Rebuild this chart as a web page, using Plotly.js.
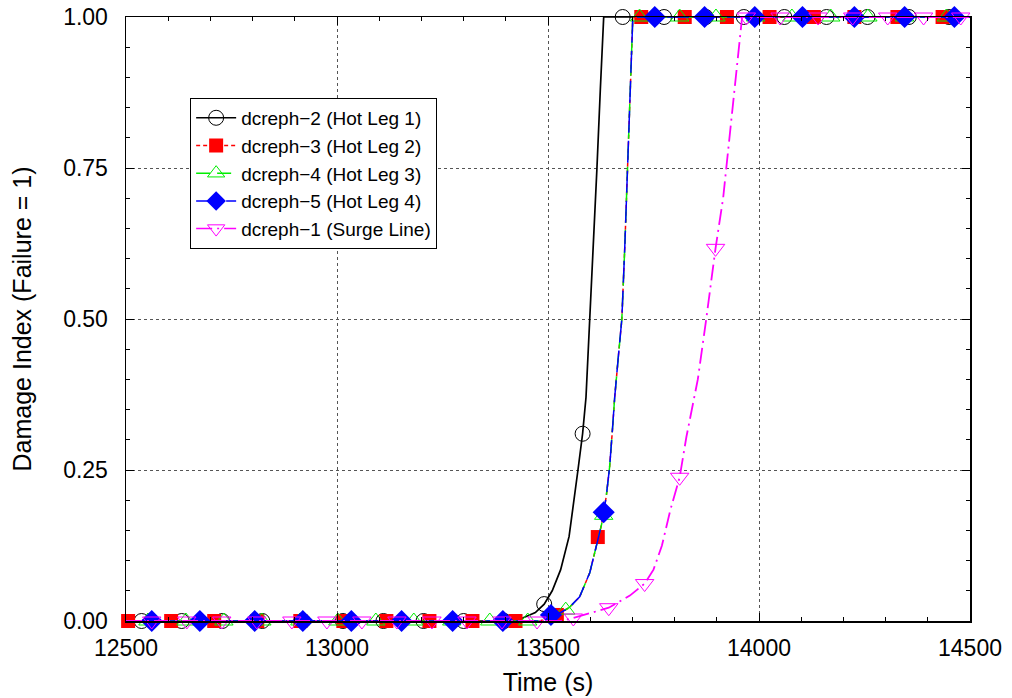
<!DOCTYPE html>
<html>
<head>
<meta charset="utf-8">
<script src="https://cdn.plot.ly/plotly-3.0.1.min.js"></script>
<style>html,body{margin:0;padding:0;background:#fff;}#chart{width:1012px;height:698px;}</style>
</head>
<body>
<div id="chart"></div>
<script>
// ---- curve data (time in s, damage index) ----
var t_hl1 = [12500, 13400, 13440, 13470, 13491, 13510, 13530, 13550, 13571, 13582, 13590, 13599, 13608, 13616, 13624, 13632, 14500];
var v_hl1 = [0, 0, 0.005, 0.014, 0.028, 0.05, 0.085, 0.14, 0.25, 0.31, 0.37, 0.5, 0.62, 0.75, 0.88, 1.0, 1.0];

var t_hl2 = [12500, 13480, 13520, 13550, 13575, 13599, 13618, 13627, 13638, 13646, 13652, 13658, 13667, 13675, 13682, 13689, 13695, 13701, 14500];
var v_hl2 = [0, 0, 0.01, 0.022, 0.04, 0.08, 0.134, 0.16, 0.206, 0.255, 0.31, 0.37, 0.44, 0.5, 0.62, 0.75, 0.88, 1.0, 1.0];

var t_hl3 = [12500, 13480, 13520, 13550, 13575, 13599, 13618, 13627, 13638, 13646, 13652, 13658, 13667, 13675, 13682, 13689, 13695, 13701, 14500];
var v_hl3 = [0, 0, 0.01, 0.022, 0.04, 0.08, 0.134, 0.16, 0.206, 0.255, 0.31, 0.37, 0.44, 0.5, 0.62, 0.75, 0.88, 1.0, 1.0];

var t_hl4 = [12500, 13480, 13520, 13550, 13575, 13599, 13618, 13627, 13638, 13646, 13652, 13658, 13667, 13675, 13682, 13689, 13695, 13701, 14500];
var v_hl4 = [0, 0, 0.01, 0.022, 0.04, 0.08, 0.134, 0.16, 0.206, 0.255, 0.31, 0.37, 0.44, 0.5, 0.62, 0.75, 0.88, 1.0, 1.0];

var t_sl = [12500, 13530, 13560, 13600, 13644, 13694, 13729, 13750, 13770, 13790, 13812, 13828, 13855, 13875, 13897, 13915, 13930, 13945, 13960, 14500];
var v_sl = [0, 0, 0.005, 0.013, 0.022, 0.042, 0.062, 0.085, 0.125, 0.184, 0.238, 0.305, 0.40, 0.50, 0.617, 0.70, 0.80, 0.90, 1.0, 1.0];

// ---- plotted symbol positions ----
var mt_hl1 = [12537, 12632, 12728, 12823, 12919, 13014, 13110, 13205, 13300, 13396, 13491, 13582, 13677, 13775, 13874, 13964, 14060, 14160, 14257, 14355, 14450];
var mv_hl1 = [0, 0, 0, 0, 0, 0, 0, 0, 0, 0, 0.028, 0.31, 1, 1, 1, 1, 1, 1, 1, 1, 1];

var mt_hl2 = [12505, 12607, 12709, 12811, 12913, 13015, 13117, 13219, 13321, 13423, 13521, 13618, 13721, 13824, 13924, 14025, 14130, 14226, 14328, 14435];
var mv_hl2 = [0, 0, 0, 0, 0, 0, 0, 0, 0, 0, 0.01, 0.139, 1, 1, 1, 1, 1, 1, 1, 1];

var mt_hl3 = [12552, 12642, 12732, 12822, 12912, 13002, 13092, 13182, 13272, 13362, 13452, 13542, 13632, 13717, 13812, 13898, 13992, 14078, 14170, 14258, 14345, 14444];
var mv_hl3 = [0, 0, 0, 0, 0, 0, 0, 0, 0, 0, 0, 0.018, 0.175, 1, 1, 1, 1, 1, 1, 1, 1, 1];

var mt_hl4 = [12561, 12675, 12805, 12919, 13034, 13153, 13274, 13393, 13507, 13632, 13753, 13871, 13990, 14103, 14226, 14345, 14463];
var mv_hl4 = [0, 0, 0, 0, 0, 0, 0, 0, 0.01, 0.18, 1, 1, 1, 1, 1, 1, 1];

var mt_sl = [12561, 12644, 12727, 12810, 12893, 12976, 13059, 13142, 13225, 13308, 13391, 13474, 13560, 13644, 13729, 13812, 13897, 13970, 14050, 14140, 14222, 14305, 14390, 14478];
var mv_sl = [0, 0, 0, 0, 0, 0, 0, 0, 0, 0, 0, 0, 0.005, 0.022, 0.062, 0.238, 0.617, 1, 1, 1, 1, 1, 1, 1];

var names = ['dcreph\u22122 (Hot Leg 1)', 'dcreph\u22123 (Hot Leg 2)', 'dcreph\u22124 (Hot Leg 3)', 'dcreph\u22125 (Hot Leg 4)', 'dcreph\u22121 (Surge Line)'];
var xTicks = [12500, 13000, 13500, 14000, 14500];
var yTicks = [0, 0.25, 0.5, 0.75, 1.0];

var styles = [
  {color: '#000000', dash: 'solid', lw: 1.7, sym: 'circle-open', size: 15, mlw: 1},
  {color: '#ff0000', dash: '4px,3px', lw: 1.5, sym: 'square', size: 14, mlw: 0},
  {color: '#00ee00', dash: '14px,7px', lw: 1.5, sym: 'triangle-up-open', size: 16, mlw: 1},
  {color: '#0000ff', dash: '22px,8px', lw: 1.5, sym: 'diamond', size: 17, mlw: 0},
  {color: '#ff00ff', dash: '16px,5px,2px,5px', lw: 1.8, sym: 'triangle-down-open', size: 16, mlw: 1}
];
var series = [
  [t_hl1, v_hl1, mt_hl1, mv_hl1],
  [t_hl2, v_hl2, mt_hl2, mv_hl2],
  [t_hl3, v_hl3, mt_hl3, mv_hl3],
  [t_hl4, v_hl4, mt_hl4, mv_hl4],
  [t_sl, v_sl, mt_sl, mv_sl]
];

var traces = [];
series.forEach(function (s, i) {
  var st = styles[i];
  traces.push({x: s[0], y: s[1], mode: 'lines', showlegend: false, cliponaxis: false,
    line: {color: st.color, width: st.lw, dash: st.dash}, hoverinfo: 'skip'});
  traces.push({x: s[2], y: s[3], mode: 'markers', showlegend: false, cliponaxis: false,
    marker: {symbol: st.sym, size: st.size, color: st.color, line: {color: st.color, width: st.mlw}}});
});
series.forEach(function (s, i) {
  var st = styles[i];
  traces.push({x: [null], y: [null], mode: 'lines+markers', name: names[i], showlegend: true,
    line: {color: st.color, width: 1.5, dash: st.dash},
    marker: {symbol: st.sym, size: Math.min(st.size, 15), color: st.color, line: {color: st.color, width: st.mlw}}});
});

var font = 'Liberation Sans, Arial, Helvetica, sans-serif';
var layout = {
  width: 1012, height: 698,
  margin: {l: 126, r: 42, t: 17, b: 77},
  paper_bgcolor: '#ffffff', plot_bgcolor: '#ffffff',
  font: {family: font, size: 23, color: '#000'},
  showlegend: true,
  legend: {x: 0.076, y: 0.866, xanchor: 'left', yanchor: 'top', bgcolor: '#ffffff',
    bordercolor: '#000', borderwidth: 1, font: {family: font, size: 19, color: '#000'},
    tracegroupgap: 0, itemwidth: 40},
  xaxis: {
    range: [12500, 14500], tickmode: 'array', tickvals: xTicks, ticktext: xTicks.map(String),
    ticks: 'inside', ticklen: 8, tickwidth: 1, tickcolor: '#000',
    showline: true, linecolor: '#000', linewidth: 1.5, mirror: 'ticks',
    showgrid: true, gridcolor: '#555', griddash: '3px,3px', gridwidth: 1,
    zeroline: false, ticklabelstandoff: 6,
    minor: {dtick: 100, tick0: 12500, ticks: 'inside', ticklen: 4, tickcolor: '#000', showgrid: false},
    title: {text: 'Time (s)', font: {size: 25}, standoff: 13},
    tickfont: {size: 23}
  },
  yaxis: {
    range: [0, 1], tickmode: 'array', tickvals: yTicks, ticktext: yTicks.map(function (v) { return v.toFixed(2); }),
    ticks: 'inside', ticklen: 8, tickwidth: 1, tickcolor: '#000',
    showline: true, linecolor: '#000', linewidth: 1.5, mirror: 'ticks',
    showgrid: true, gridcolor: '#555', griddash: '3px,3px', gridwidth: 1,
    zeroline: false, ticklabelstandoff: 12,
    minor: {dtick: 0.05, tick0: 0, ticks: 'inside', ticklen: 4, tickcolor: '#000', showgrid: false},
    title: {text: 'Damage Index (Failure = 1)', font: {size: 25}, standoff: 24},
    tickfont: {size: 23}
  }
};

Plotly.newPlot('chart', traces, layout, {displayModeBar: false, staticPlot: true});
</script>
</body>
</html>
